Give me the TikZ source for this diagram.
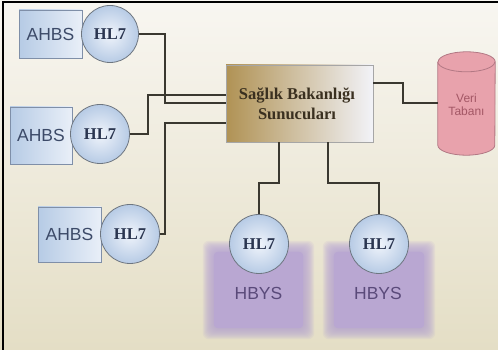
\documentclass[tikz,border=0pt]{standalone}
\usepackage{fontspec}
\setmainfont{Liberation Serif}
\setsansfont{Liberation Sans}
\usetikzlibrary{calc}
\definecolor{bgtop}{HTML}{F8F6F1}
\definecolor{bgbot}{HTML}{E4DEC5}
\definecolor{wire}{HTML}{3A3830}
\definecolor{ahbsL}{HTML}{B6CBE5}
\definecolor{ahbsR}{HTML}{E9EFF8}
\definecolor{ahbsB}{HTML}{7F8FA8}
\definecolor{ahbsT}{HTML}{3C4A68}
\definecolor{hlIn}{HTML}{F0F4FB}
\definecolor{hlOut}{HTML}{B7CBE5}
\definecolor{hlB}{HTML}{6E7680}
\definecolor{hlT}{HTML}{2A3550}
\definecolor{srvL}{HTML}{B09254}
\definecolor{srvR}{HTML}{F2F3F8}
\definecolor{srvT}{HTML}{3A3020}
\definecolor{dbF}{HTML}{E8A2AC}
\definecolor{dbB}{HTML}{B27884}
\definecolor{dbT}{HTML}{A35765}
\definecolor{hbF}{HTML}{B9A7D2}
\definecolor{hbT}{HTML}{5A4A7A}
\pgfdeclarelayer{bg}
\pgfdeclarelayer{halo}
\pgfsetlayers{bg,halo,main}
\tikzset{
  ahbs/.style={rectangle, draw=ahbsB, line width=0.8pt, left color=ahbsL, right color=ahbsR,
    inner sep=0pt, text=ahbsT, font=\sffamily\fontsize{17.5}{20}\selectfont},
  hlseven/.style={circle, draw=hlB, line width=0.8pt, inner color=hlIn, outer color=hlOut,
    inner sep=0pt, text=hlT, font=\bfseries\fontsize{16.5}{18}\selectfont},
  wireline/.style={draw=wire, line width=2pt},
  hbys/.style={rectangle, inner sep=0pt, text=hbT, font=\sffamily\fontsize{17.5}{20}\selectfont},
}
\begin{document}
\begin{tikzpicture}[x=1pt,y=1pt]
\useasboundingbox (0,0) rectangle (498,350);
\begin{pgfonlayer}{bg}
\shade[top color=bgtop, bottom color=bgbot] (0,0) rectangle (498,350);
\draw[black, line width=1.5pt] (3,0) -- (3,348) -- (498,348);
\end{pgfonlayer}

% clients
\node[ahbs, minimum width=63pt, minimum height=48pt] (ahbs1) at (50.5,316) {AHBS};
\node[hlseven, minimum size=57pt] (hl1) at (110,316) {HL7};
\node[ahbs, minimum width=62pt, minimum height=57pt] (ahbs2) at (41,214.5) {AHBS};
\node[hlseven, minimum size=59pt] (hl2) at (100,216) {HL7};
\node[ahbs, minimum width=63pt, minimum height=55pt] (ahbs3) at (69.5,115.5) {AHBS};
\node[hlseven, minimum size=59pt] (hl3) at (130,116) {HL7};

% server
\node[rectangle, draw=gray!70, line width=0.6pt, left color=srvL, right color=srvR,
  minimum width=147pt, minimum height=77pt, align=center, text=srvT,
  font=\bfseries\fontsize{16.5}{20}\selectfont] (srv) at (299.5,246.5)
  {\hspace*{-5pt}Sağlık Bakanlığı\\\hspace*{-5pt}Sunucuları};

% database
\node[minimum width=57pt, minimum height=103pt, inner sep=0pt] (db) at (466.5,246.5) {};
\fill[dbF] ($(db.north west)+(0,-10)$) -- ($(db.south west)+(0,10)$)
  arc[start angle=180, end angle=360, x radius=28.5, y radius=10]
  -- ($(db.north east)+(0,-10)$)
  arc[start angle=0, end angle=180, x radius=28.5, y radius=10] -- cycle;
\draw[dbB, line width=0.8pt] ($(db.north west)+(0,-10)$) -- ($(db.south west)+(0,10)$)
  arc[start angle=180, end angle=360, x radius=28.5, y radius=10]
  -- ($(db.north east)+(0,-10)$)
  arc[start angle=0, end angle=180, x radius=28.5, y radius=10];
\draw[dbB, line width=0.8pt] ($(db.north west)+(0,-10)$)
  arc[start angle=180, end angle=360, x radius=28.5, y radius=10];
\node[align=center, text=dbT, font=\sffamily\fontsize{12}{12.5}\selectfont] (dbtext) at ($(db.center)+(0,-1)$) {Veri\\Tabanı};

% HBYS boxes
\node[hbys, minimum width=97pt, minimum height=84pt] (hbys1) at (258.5,60) {};
\node[hbys, minimum width=98pt, minimum height=84pt] (hbys2) at (379,60) {};
\begin{pgfonlayer}{halo}
\foreach \n in {hbys1,hbys2}{
  \foreach \d in {7,6,...,-5}{
    \fill[hbF, opacity=0.14, rounded corners=6pt] ($(\n.south west)+(-\d,-\d)$) rectangle ($(\n.north east)+(\d,\d)$);
  }
  \fill[hbF, rounded corners=4pt] ($(\n.south west)+(4,4)$) rectangle ($(\n.north east)+(-4,-4)$);
}
\end{pgfonlayer}
\node[hbys] (hbyst1) at (258.5,57) {HBYS};
\node[hbys] (hbyst2) at (378,57) {HBYS};
\node[hlseven, minimum size=59pt] (hl4) at (259,106) {HL7};
\node[hlseven, minimum size=59pt] (hl5) at (379,106) {HL7};

% connectors
\draw[wireline] (hl1.east) -| (165,247) -- (srv.west |- 0,247);
\draw[wireline] (hl2.east) -| (148,255) -- (srv.west |- 0,255);
\draw[wireline] (srv.west |- 0,227) -| (165,116) -- (hl3.east);
\draw[wireline] (srv.east |- 0,267) -| (403,247) -- (db.west |- 0,247);
\draw[wireline] (srv.south -| 279,0) |- (259,167) -- (hl4.north);
\draw[wireline] (srv.south -| 328,0) |- (379,167) -- (hl5.north);
\end{tikzpicture}
\end{document}
